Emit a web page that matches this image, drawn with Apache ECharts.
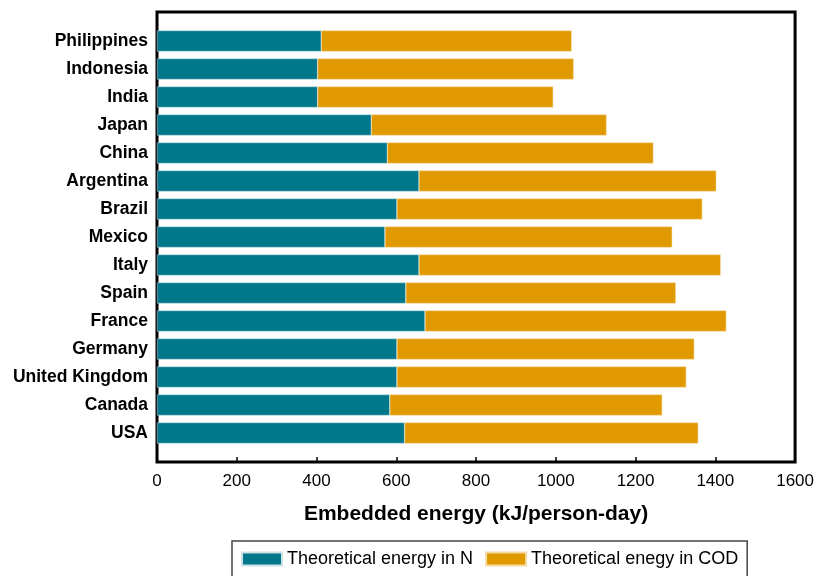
<!DOCTYPE html>
<html>
<head>
<meta charset="utf-8">
<script src="https://cdn.jsdelivr.net/npm/echarts@6/dist/echarts.min.js"></script>
<style>html,body{margin:0;padding:0;background:#fff;}#chart{width:817px;height:576px;}</style>
</head>
<body>
<div id="chart"></div>
<script>
const countries = ["Philippines","Indonesia","India","Japan","China","Argentina","Brazil","Mexico","Italy","Spain","France","Germany","United Kingdom","Canada","USA"];
const energyN = [410,401,401,535,575,654,599,569,654,621,669,599,599,581,618];
const energyTotal = [1035,1040,989,1122,1239,1396,1361,1286,1407,1295,1421,1341,1321,1261,1351];
const energyCOD = energyTotal.map((t,i)=>t-energyN[i]);
const xTicks = [0,200,400,600,800,1000,1200,1400,1600];

const chart = echarts.init(document.getElementById('chart'));
const font = 'Liberation Sans, Arial, sans-serif';
chart.setOption({
  animation:false,
  textStyle:{fontFamily:font},
  grid:[
    {left:157,right:19,top:27,bottom:129},
    {left:157,right:19,top:12,bottom:114,show:true,borderColor:'#000',borderWidth:3,backgroundColor:'transparent'}
  ],
  legend:{
    left:232, top:541,
    data:['Theoretical energy in N','Theoretical enegy in COD'],
    itemWidth:40,itemHeight:13,itemGap:12,
    borderColor:'#444',borderWidth:1.5,padding:[9,9,14,9],
    icon:'rect',
    textStyle:{fontFamily:font,fontSize:18,color:'#000'}
  },
  xAxis:[
    {type:'value',gridIndex:0,min:0,max:1600,interval:200,show:false,splitLine:{show:false}},
    {
    type:'value',gridIndex:1,min:0,max:1600,interval:200,
    name:'Embedded energy (kJ/person-day)',nameLocation:'middle',nameGap:42,
    nameTextStyle:{fontFamily:font,fontSize:21,fontWeight:'bold',color:'#000'},
    axisLine:{show:false},
    axisTick:{show:true,inside:true,length:5,lineStyle:{color:'#000',width:1.5}},
    axisLabel:{fontFamily:font,fontSize:17,color:'#000',margin:11,formatter:v=>xTicks.includes(v)?String(v):''},
    splitLine:{show:false}
  }],
  yAxis:[{
    type:'category',gridIndex:0,data:countries,inverse:true,
    axisLine:{show:false},axisTick:{show:false},
    axisLabel:{fontFamily:font,fontSize:17.5,fontWeight:'bold',color:'#000',margin:9}
  },{
    type:'value',gridIndex:1,show:false,splitLine:{show:false}
  }],
  series:[
    {name:'Theoretical energy in N',type:'bar',stack:'e',data:energyN,barWidth:21,xAxisIndex:0,yAxisIndex:0,
     itemStyle:{color:'#00778A',borderColor:'#cfe3e6',borderWidth:0.5}},
    {name:'Theoretical enegy in COD',type:'bar',stack:'e',data:energyCOD,barWidth:21,xAxisIndex:0,yAxisIndex:0,
     itemStyle:{color:'#E09A00',borderColor:'#f5dca6',borderWidth:0.5}}
  ]
});
</script>
</body>
</html>
